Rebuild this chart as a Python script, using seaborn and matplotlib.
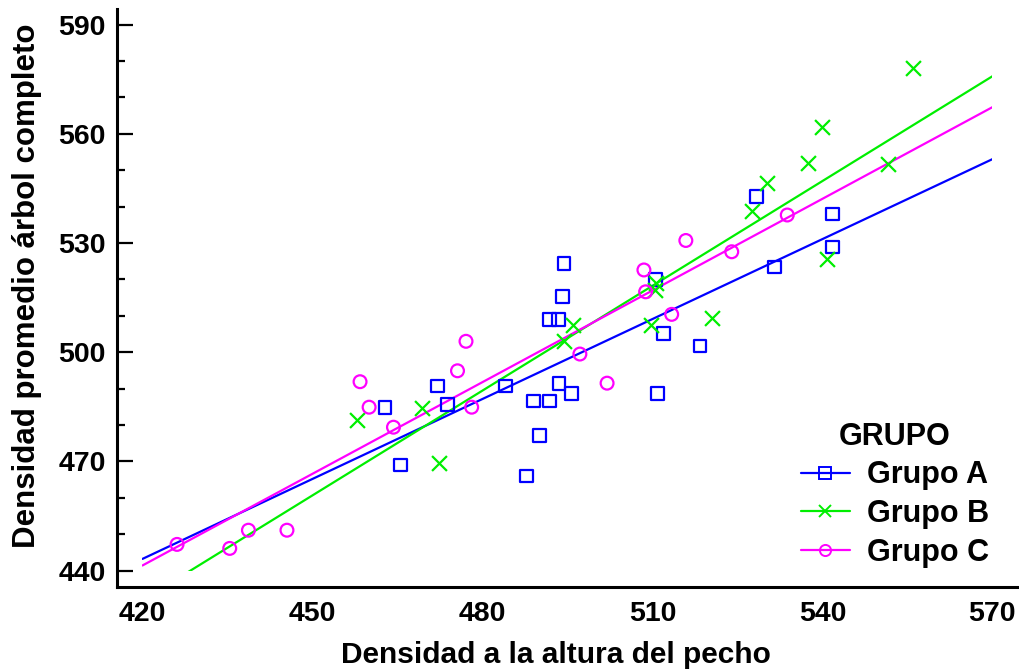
import numpy as np
import pandas as pd
import seaborn as sns
import matplotlib
matplotlib.use("Agg")
import matplotlib.pyplot as plt
from matplotlib.lines import Line2D
from matplotlib.patches import Rectangle

# Density at breast height (x) vs. mean whole-tree density (y), per group
grupo_a_x = [462.8, 465.6, 472.1, 473.8, 484.1, 487.8, 489.0, 490.1, 491.9, 493.4,
             491.9, 493.5, 494.1, 494.4, 495.7, 510.6, 511.9, 510.9, 518.4, 528.4,
             531.6, 541.8, 541.8]
grupo_a_y = [484.9, 469.0, 490.7, 485.7, 490.7, 466.0, 486.6, 477.1, 508.9, 508.9,
             486.6, 491.3, 515.3, 524.4, 488.7, 519.9, 505.2, 488.7, 501.7, 542.7,
             523.4, 538.0, 528.9]

grupo_b_x = [457.9, 469.3, 472.3, 494.4, 496.0, 509.7, 510.6, 510.4, 520.5, 527.6,
             530.2, 537.4, 539.9, 540.8, 551.6, 556.0]
grupo_b_y = [481.4, 484.7, 469.5, 503.1, 507.5, 507.5, 519.0, 517.1, 509.4, 538.8,
             546.5, 552.0, 561.9, 525.6, 551.7, 578.1]

grupo_c_x = [426.1, 435.4, 438.7, 445.5, 458.4, 460.0, 464.3, 475.6, 477.1, 478.1,
             497.2, 502.0, 508.5, 508.8, 513.4, 515.9, 524.0, 533.8]
grupo_c_y = [447.2, 446.1, 451.1, 451.1, 491.9, 484.9, 479.4, 494.9, 503.0, 484.9,
             499.5, 491.5, 522.6, 516.6, 510.4, 530.7, 527.6, 537.7]

grupos = ["Grupo A", "Grupo B", "Grupo C"]
colores = ["#0000FF", "#00EE00", "#FF00FF"]
marcadores = ["s", "x", "o"]

x_ticks = [420, 450, 480, 510, 540, 570]
y_ticks = [440, 470, 500, 530, 560, 590]

df = pd.concat([
    pd.DataFrame({"x": grupo_a_x, "y": grupo_a_y, "grupo": "Grupo A"}),
    pd.DataFrame({"x": grupo_b_x, "y": grupo_b_y, "grupo": "Grupo B"}),
    pd.DataFrame({"x": grupo_c_x, "y": grupo_c_y, "grupo": "Grupo C"}),
], ignore_index=True)

sns.set_style("white")
plt.rcParams["font.family"] = ["Liberation Sans", "DejaVu Sans"]
plt.rcParams["font.weight"] = "bold"
for key in ["text.color", "axes.labelcolor", "xtick.color", "ytick.color"]:
    plt.rcParams[key] = "black"

fig = plt.figure(figsize=(10.19, 6.71), dpi=100)
ax = fig.add_axes([0.1148, 0.1252, 0.8852, 0.8614])

# regression lines span the full 420-570 range, clipped to the data box
ax.set_xlim(420, 570)
clip = Rectangle((420, 440), 150, 150, transform=ax.transData)
for g, col in zip(grupos, colores):
    sub = df[df["grupo"] == g]
    n_before = len(ax.lines)
    sns.regplot(data=sub, x="x", y="y", ax=ax, scatter=False, ci=None,
                truncate=False, color=col, line_kws={"lw": 1.6})
    for ln in ax.lines[n_before:]:
        ln.set_clip_path(clip)

for g, col, mk in zip(grupos, colores, marcadores):
    sub = df[df["grupo"] == g]
    if mk == "x":
        sns.scatterplot(data=sub, x="x", y="y", ax=ax, marker=mk, color=col,
                        s=115, linewidth=1.6, zorder=3)
    else:
        sns.scatterplot(data=sub, x="x", y="y", ax=ax, marker=mk,
                        facecolor="none", edgecolor=col, s=85, linewidth=1.6,
                        zorder=3)

ax.set_xlim(415.5, 574.7)
ax.set_ylim(435.5, 594.3)
ax.set_xticks(x_ticks)
ax.set_yticks(y_ticks)
ax.set_yticks(np.arange(440, 591, 10), minor=True)

for side in ["top", "right"]:
    ax.spines[side].set_visible(False)
for side in ["left", "bottom"]:
    ax.spines[side].set_linewidth(2.2)
    ax.spines[side].set_color("black")

ax.tick_params(axis="y", which="major", direction="in", length=11.5, width=1.6,
               pad=8, labelsize=20.5, left=True)
ax.tick_params(axis="y", which="minor", direction="in", length=5.5, width=1.6,
               left=True)
ax.tick_params(axis="x", which="both", length=0, pad=10, labelsize=20.5)
for lab in ax.get_xticklabels() + ax.get_yticklabels():
    lab.set_fontweight("bold")

ax.set_xlabel("Densidad a la altura del pecho", fontsize=21.5, fontweight="bold")
ax.set_ylabel("Densidad promedio árbol completo", fontsize=22.5, fontweight="bold")
ax.xaxis.set_label_coords(0.487, -0.093)
ax.yaxis.set_label_coords(-0.083, 0.522)

handles = [Line2D([0], [0], color=c, marker=m, lw=1.6, markersize=8,
                  markerfacecolor="none", markeredgecolor=c, markeredgewidth=1.4)
           for c, m in zip(colores, marcadores)]
leg = ax.legend(handles, grupos, title="GRUPO", loc="lower right",
                bbox_to_anchor=(0.997, -0.014), frameon=False,
                prop={"size": 22, "weight": "bold"},
                title_fontproperties={"size": 22, "weight": "bold"},
                handlelength=1.6, labelspacing=0.28, handletextpad=0.55)

fig.savefig("out.png", dpi=100)
